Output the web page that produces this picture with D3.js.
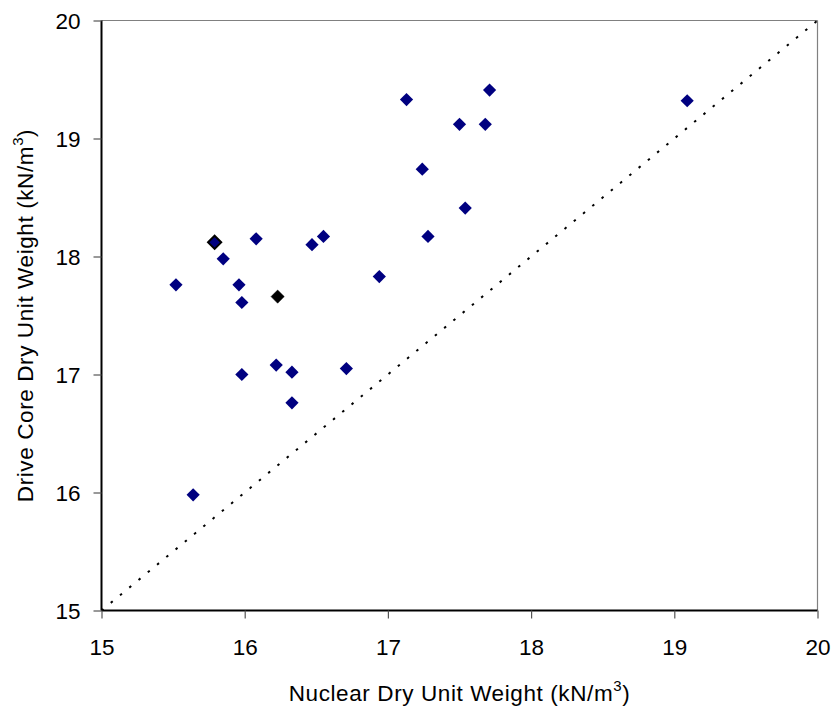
<!DOCTYPE html>
<html>
<head>
<meta charset="utf-8">
<script src="https://cdn.jsdelivr.net/npm/d3@7"></script>
<style>
  html, body { margin: 0; padding: 0; background: #fff; }
  text { font-family: Arial, "Liberation Sans", sans-serif; fill: #000; }
</style>
</head>
<body>
<svg id="chart" width="838" height="713"></svg>
<script>
// Data (kN/m^3)
const nuclear = [15.52, 15.64, 15.79, 15.85, 15.96, 15.98, 15.98, 16.08, 16.23, 16.22, 16.33, 16.33,
                 16.47, 16.55, 16.71, 16.94, 17.13, 17.24, 17.28, 17.50, 17.54, 17.68, 17.71, 19.09];
const driveCore = [17.76, 15.98, 18.12, 17.98, 17.76, 17.61, 17.00, 18.15, 17.66, 17.08, 17.02, 16.76,
                   18.10, 18.17, 17.05, 17.83, 19.33, 18.74, 18.17, 19.12, 18.41, 19.12, 19.41, 19.32];
// marker style per point: 0 = navy, 1 = navy with black outline, 2 = black
const pointKind = [0, 0, 1, 0, 0, 0, 0, 0, 2, 0, 0, 0,
                   0, 0, 0, 0, 0, 0, 0, 0, 0, 0, 0, 0];
const xTicks = [15, 16, 17, 18, 19, 20];
const yTicks = [15, 16, 17, 18, 19, 20];
const equalityLine = [15, 20];
const xTitle = "Nuclear Dry Unit Weight (kN/m";
const yTitle = "Drive Core Dry Unit Weight (kN/m";

const svg = d3.select("#chart");
const pL = 101.5, pR = 817.5, pT = 20.5, pB = 610.5;

const x = d3.scaleLinear().domain([15, 20]).range([pL, pR]);
const y = d3.scaleLinear().domain([15, 20]).range([pB, pT]);

// frame top & right (gray)
svg.append("line").attr("x1", pL).attr("x2", pR).attr("y1", pT).attr("y2", pT)
  .attr("stroke", "#808080").attr("stroke-width", 1.2);
svg.append("line").attr("x1", pR).attr("x2", pR).attr("y1", pT).attr("y2", pB)
  .attr("stroke", "#808080").attr("stroke-width", 1.2);

// 1:1 dotted line
svg.append("line")
  .attr("x1", x(equalityLine[0])).attr("y1", y(equalityLine[0]))
  .attr("x2", x(equalityLine[1])).attr("y2", y(equalityLine[1]))
  .attr("stroke", "#000").attr("stroke-width", 2)
  .attr("stroke-dasharray", "2.5,9.5");

// axes
const fs = 22.5;
const xAxis = svg.append("g").attr("transform", `translate(0,${pB})`)
  .call(d3.axisBottom(x).tickValues(xTicks).tickFormat(d3.format("d")).tickSize(8).tickPadding(21));
const yAxis = svg.append("g").attr("transform", `translate(${pL},0)`)
  .call(d3.axisLeft(y).tickValues(yTicks).tickFormat(d3.format("d")).tickSize(8).tickPadding(13));
[xAxis, yAxis].forEach(g => {
  g.select(".domain").attr("stroke", "#000").attr("stroke-width", 2);
  g.selectAll(".tick line").attr("stroke", "#555").attr("stroke-width", 1.2);
  g.selectAll(".tick text").attr("font-size", fs).attr("font-family", "Arial, 'Liberation Sans', sans-serif").attr("fill", "#000");
});
xAxis.selectAll(".tick text").attr("dy", "0.71em");
yAxis.selectAll(".tick text").attr("dy", "0.36em");
xAxis.select(".domain").attr("d", `M${pL},0H${pR}`);
yAxis.select(".domain").attr("d", `M0,${pB}V${pT}`);

// points (diamonds)
const r = 6.6;
const diamond = `M0,${-r}L${r},0L0,${r}L${-r},0Z`;
svg.append("g").selectAll("path").data(nuclear.map((v, i) => i)).join("path")
  .attr("d", diamond)
  .attr("transform", i => `translate(${x(nuclear[i])},${y(driveCore[i])})`)
  .attr("fill", i => pointKind[i] === 2 ? "#000" : "#000080")
  .attr("stroke", i => pointKind[i] === 0 ? "none" : "#000")
  .attr("stroke-width", i => pointKind[i] === 1 ? 2 : 0.5);

// axis titles
const xt = svg.append("text").attr("x", (pL + pR) / 2).attr("y", 701)
  .attr("text-anchor", "middle").attr("font-size", fs).attr("letter-spacing", 0.6);
xt.append("tspan").text(xTitle);
xt.append("tspan").attr("dy", -10).attr("font-size", 15).text("3");
xt.append("tspan").attr("dy", 10).text(")");

const yt = svg.append("text")
  .attr("transform", `translate(33,${(pT + pB) / 2}) rotate(-90)`)
  .attr("text-anchor", "middle").attr("font-size", fs).attr("letter-spacing", 0.6);
yt.append("tspan").text(yTitle);
yt.append("tspan").attr("dy", -10).attr("font-size", 15).text("3");
yt.append("tspan").attr("dy", 10).text(")");
</script>
</body>
</html>
